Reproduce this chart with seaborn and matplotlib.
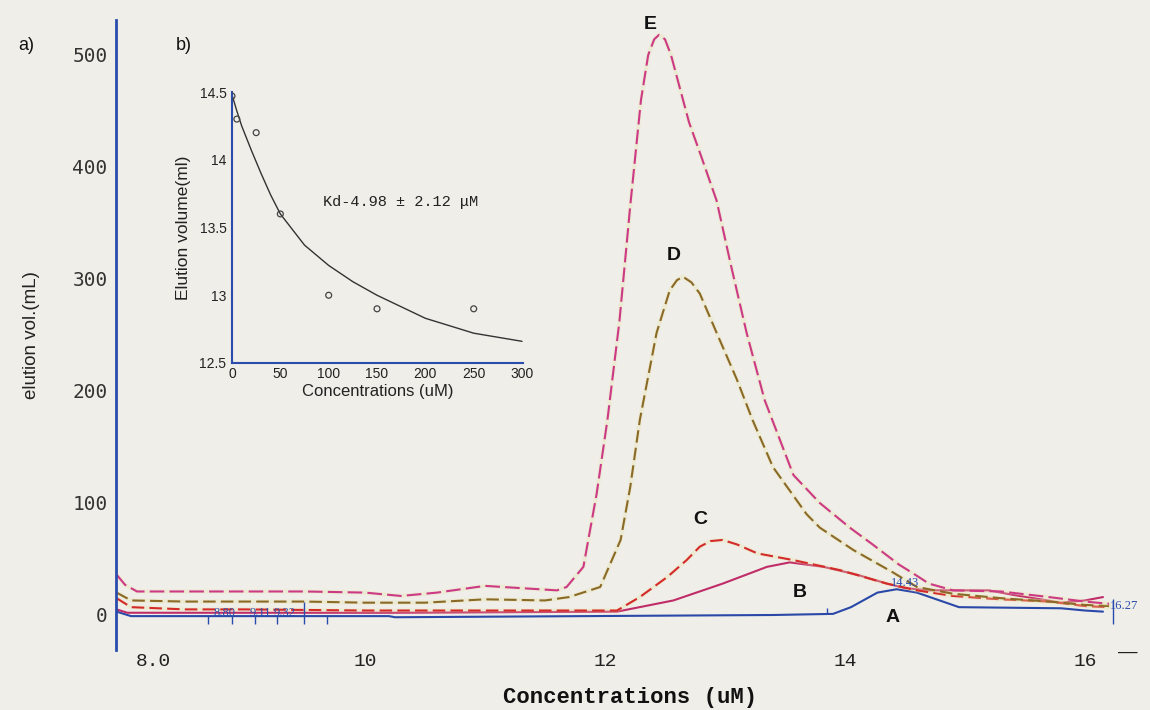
import numpy as np
import pandas as pd
import matplotlib
matplotlib.use("Agg")
import matplotlib.pyplot as plt
import matplotlib.transforms as mtransforms
import seaborn as sns

# elution profiles (x = volume, y = signal)
e_x = [7.93, 8.0, 8.1, 8.6, 9.0, 9.5, 10.0, 10.3, 10.6, 11.0, 11.3, 11.6, 11.68, 11.82, 11.93,
       12.02, 12.12, 12.21, 12.3, 12.36, 12.41, 12.45, 12.5, 12.55, 12.6, 12.7, 12.8, 12.93,
       13.05, 13.18, 13.33, 13.57, 13.79, 14.04, 14.23, 14.45, 14.57, 14.7, 14.9, 15.3, 15.7,
       16.0, 16.2]
e_y = [36, 27, 21, 21, 21, 21, 20, 17, 20, 26, 24, 22, 25, 43, 108,
       174, 262, 365, 460, 500, 514, 518, 514, 500, 480, 440, 410, 370,
       312, 252, 192, 125, 100, 78, 63, 45, 37, 28, 22, 21, 16,
       12, 10]

d_x = [7.93, 8.05, 8.5, 9.0, 9.5, 10.0, 10.5, 11.0, 11.5, 11.7, 11.96, 12.13, 12.21, 12.29,
       12.43, 12.54, 12.6, 12.65, 12.72, 12.79, 12.93, 13.1, 13.23, 13.4, 13.68, 13.79, 14.07,
       14.4, 14.6, 14.9, 15.3, 15.7, 16.0, 16.2]
d_y = [20, 13, 12, 12, 12, 11, 11, 14, 13, 16, 25, 67, 114, 174,
       252, 290, 299, 302, 297, 287, 252, 210, 174, 132, 90, 78, 58,
       38, 25, 19, 15, 12, 9, 8]

c_x = [7.93, 8.05, 8.5, 9.0, 10.0, 11.0, 12.1, 12.29, 12.52, 12.68, 12.79, 12.88, 12.98,
       13.1, 13.27, 13.57, 13.96, 14.35, 14.6, 14.9, 15.3, 15.7, 16.0, 16.2]
c_y = [15, 7, 5, 5, 4, 4, 4, 16, 34, 49, 61, 66, 67,
       63, 55, 49, 40, 28, 22, 17, 14, 12, 8, 7]

b_x = [7.93, 8.02, 10.2, 12.1, 12.57, 12.98, 13.35, 13.54, 13.82, 14.1, 14.35, 14.5, 14.7,
       15.2, 15.4, 15.8, 16.0, 16.15]
b_y = [5, 2, 2, 3, 13, 28, 43, 47, 43, 36, 28, 24, 22,
       22, 18, 11, 13, 16]

a_x = [7.93, 8.05, 10.2, 10.25, 13.4, 13.9, 14.05, 14.27, 14.43, 14.6, 14.95, 15.8, 16.0, 16.15]
a_y = [3, -1, -1, -2, 0, 1, 7, 20, 23, 20, 7, 6, 4, 3]

curve_names = ["A", "B", "C", "D", "E"]
curve_colors = ["#2a48a8", "#c02c68", "#d42a2a", "#8a6a26", "#cc3a86"]

# retention marks and their labels
mark_x = [8.69, 8.89, 9.08, 9.27, 9.49, 9.68]
mark_labels = ["8.80", "9.11", "9.32"]
mark_label_x = [8.83, 9.13, 9.33]

# inset (b): elution volume vs concentration
conc = [0, 5, 25, 50, 100, 150, 250]
elution = [14.47, 14.30, 14.20, 13.60, 13.00, 12.90, 12.90]
fit_x = [0, 5, 10, 20, 30, 40, 50, 75, 100, 125, 150, 200, 250, 300]
fit_y = [14.48, 14.36, 14.25, 14.07, 13.90, 13.74, 13.60, 13.37, 13.22, 13.10, 13.00, 12.83, 12.72, 12.66]

sns.set_theme(style="white")
plt.rcParams['font.family'] = ['Liberation Sans', 'DejaVu Sans']

bg = "#efeee8"
blue = "#2a4cac"
fig = plt.figure(figsize=(11.5, 7.1), dpi=100, facecolor=bg)

W, H = 1150, 710
ax = fig.add_axes([116 / W, 60 / H, 1 - 116 / W, 630 / H])
ax.set_facecolor("none")

xs = [a_x, b_x, c_x, d_x, e_x]
ys = [a_y, b_y, c_y, d_y, e_y]
styles = ["-", "-", (0, (6, 2.5)), (0, (6, 2.5)), (0, (7, 2.5))]
for name, x, y, col, ls in zip(curve_names, xs, ys, curve_colors, styles):
    df = pd.DataFrame({"x": x, "y": y})
    if ls != "-":
        # faint yellow halo of the scan
        sns.lineplot(data=df, x="x", y="y", ax=ax, color="#ebe3a8", lw=3, alpha=0.3)
    sns.lineplot(data=df, x="x", y="y", ax=ax, color=col, lw=1.5, linestyle=ls)

# small retention marks
ax.vlines(mark_x, -8, -1, color=blue, lw=1)
ax.vlines([9.49], -1, 12, color=blue, lw=1)
ax.vlines([13.85], 1, 6, color=blue, lw=1)
ax.vlines([16.23], -8, 14, color=blue, lw=1)
for lab, lx in zip(mark_labels, mark_label_x):
    ax.text(lx, 2, lab, color=blue, fontsize=9, family="Liberation Serif",
            ha="center", va="center")
ax.text(14.5, 29, "14.43", color=blue, fontsize=9, family="Liberation Serif",
        ha="center", va="center")
ax.text(16.33, 8, "16.27", color=blue, fontsize=9, family="Liberation Serif",
        ha="center", va="center")

# curve letters
letter_pos = {"A": (14.4, -2), "B": (13.62, 20), "C": (12.79, 85), "D": (12.57, 321), "E": (12.375, 527)}
for k, (lx, ly) in letter_pos.items():
    ax.text(lx, ly, k, fontsize=14, fontweight="bold", color="#111", ha="center", va="center")

ax.set_xlim(8 - 9 / 120, 8 + (W - 125) / 120)
ax.set_ylim(-31.25, 531.25)
ax.set_xticks([8, 10, 12, 14, 16])
ax.set_xticklabels(["8.0", "10", "12", "14", "16"])
ax.set_yticks([0, 100, 200, 300, 400, 500])
for s in ["top", "right", "bottom"]:
    ax.spines[s].set_visible(False)
ax.spines["left"].set_color(blue)
ax.spines["left"].set_linewidth(2)
ax.tick_params(axis="x", length=0, pad=2, labelsize=14, labelcolor="#222")
ax.tick_params(axis="y", length=3, width=1, color=blue, direction="out", pad=3,
               labelsize=14, labelcolor="#333")
for t in ax.get_xticklabels():
    t.set_family("Liberation Mono")
for t in ax.get_yticklabels():
    t.set_family("DejaVu Sans Mono")
# the "8.0" label sits a bit right of its position in the original
lab0 = ax.get_xticklabels()[0]
lab0.set_transform(lab0.get_transform() + mtransforms.ScaledTranslation(0.28, 0, fig.dpi_scale_trans))

ax.set_xlabel("Concentrations (uM)", family="Liberation Mono", fontweight="bold",
              fontsize=16, color="#111")
ax.xaxis.label.set_va("center")
ax.xaxis.set_label_coords((630 - 116) / 1034, (650 - 697) / 630)
ax.set_ylabel("elution vol.(mL)", fontsize=13.5, color="#222")
ax.yaxis.set_label_coords((40 - 116) / 1034, (650 - 335) / 630)

fig.text(18 / W, 1 - 45 / H, "a)", fontsize=13, color="#111", va="center")
fig.text(176 / W, 1 - 45 / H, "b)", fontsize=13, color="#111", va="center")
fig.text(1128 / W, 1 - 652 / H, "\u2014", fontsize=14, color="#222", va="center", ha="center")

# inset
ins = fig.add_axes([232 / W, 1 - 363 / H, 291 / W, 271 / H])
ins.set_facecolor("none")
sns.lineplot(x=fit_x, y=fit_y, ax=ins, color="#333", lw=1)
sns.scatterplot(x=conc, y=elution, ax=ins, marker="o", s=18, facecolors="none",
                edgecolor="#444", linewidth=0.9, zorder=3)
ins.set_xlim(0, 301)
ins.set_ylim(12.5, 14.5)
ins.set_xticks([0, 50, 100, 150, 200, 250, 300])
ins.set_yticks([12.5, 13, 13.5, 14, 14.5])
ins.set_yticklabels(["12.5", "13", "13.5", "14", "14.5"])
for s in ["top", "right"]:
    ins.spines[s].set_visible(False)
for s in ["left", "bottom"]:
    ins.spines[s].set_color(blue)
    ins.spines[s].set_linewidth(1.5)
ins.tick_params(axis="x", direction="in", length=4, color=blue, pad=3, labelsize=10,
                labelcolor="#222")
ins.tick_params(axis="y", direction="out", length=3, color=blue, pad=1, labelsize=10,
                labelcolor="#222")
ins.text(94, 13.69, "Kd-4.98 \u00b1 2.12 \u03bcM", family="Liberation Mono", fontsize=11,
         color="#222", va="center")
ins.set_xlabel("Concentrations (uM)", fontsize=12, color="#222", labelpad=2)
ins.set_ylabel("Elution volume(ml)", fontsize=12.5, color="#222", labelpad=6)

fig.savefig("out.png", dpi=100, facecolor=bg)
